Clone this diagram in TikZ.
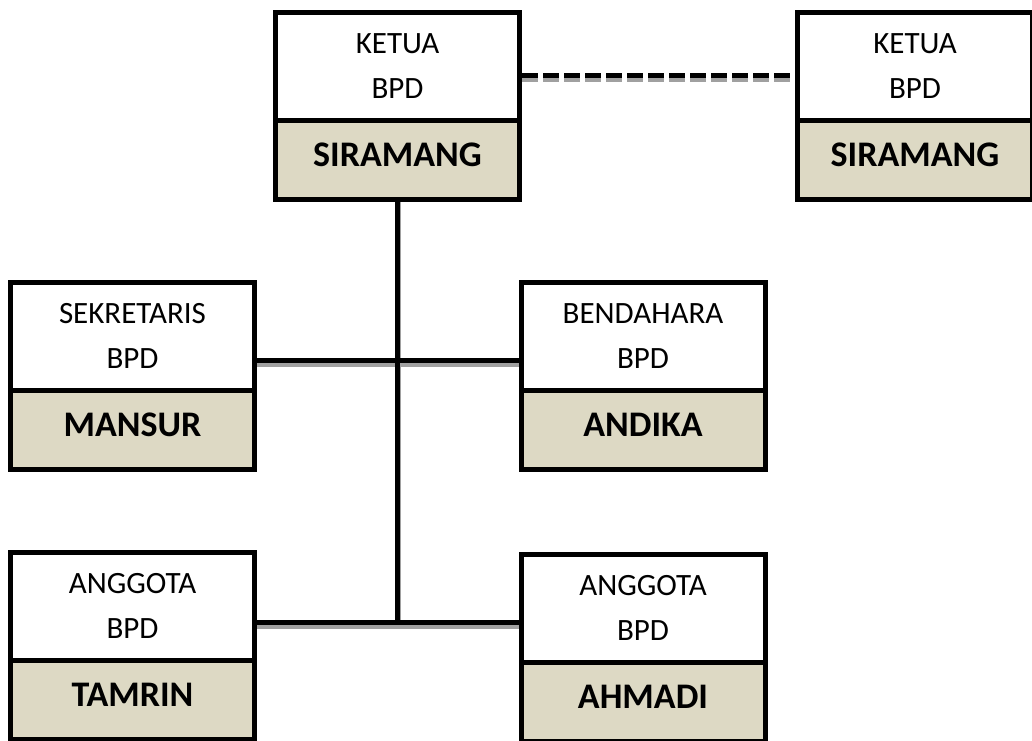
\documentclass[tikz,border=0pt]{standalone}
\usepackage{fontspec}
\setmainfont{Carlito}
\usetikzlibrary{calc}
\pgfdeclarelayer{background}
\pgfsetlayers{background,main}
\definecolor{namebg}{HTML}{DDD9C4}
\definecolor{shadowgray}{HTML}{A0A0A0}
\tikzset{
  role/.style={draw, line width=5pt, fill=white, minimum width=244pt, minimum height=108pt, inner sep=0pt},
  who/.style={draw, line width=5pt, fill=namebg, minimum width=244pt, minimum height=79pt, inner sep=0pt},
  rtxt/.style={anchor=base, font=\fontsize{31}{31}\selectfont, inner sep=0pt},
  ntxt/.style={anchor=base, font=\bfseries\fontsize{36}{36}\selectfont, inner sep=0pt},
  link/.style={line width=5pt, draw=black},
  shade/.style={line width=5pt, draw=shadowgray},
  dashlink/.style={dash pattern=on 16pt off 5pt},
}
\begin{document}
\begin{tikzpicture}[x=1pt, y=-1pt]
\useasboundingbox (0,0) rectangle (1032,740);
\clip (0,0) rectangle (1032,740);

% boxes
\node[role] (A) at (397.5,66.5) {};
\node[who]  (An) at (397.5,160) {};
\node[role, minimum width=235pt] (B) at (915,66.5) {};
\node[who,  minimum width=235pt] (Bn) at (915,160) {};
\node[role] (C) at (132.5,336.5) {};
\node[who]  (Cn) at (132.5,430) {};
\node[role] (D) at (643,336.5) {};
\node[who]  (Dn) at (643,430) {};
\node[role] (E) at (132.5,606.5) {};
\node[who]  (En) at (132.5,700) {};
\node[role] (F) at (643,608.5) {};
\node[who]  (Fn) at (643,702) {};

% texts
\node[rtxt] (A1) at ([yshift=-43pt]A.north) {KETUA};
\node[rtxt] (A2) at ([yshift=-88pt]A.north) {BPD};
\node[ntxt] (A3) at ([yshift=-48pt]An.north) {SIRAMANG};
\node[rtxt] (B1) at ([yshift=-43pt]B.north) {KETUA};
\node[rtxt] (B2) at ([yshift=-88pt]B.north) {BPD};
\node[ntxt] (B3) at ([yshift=-48pt]Bn.north) {SIRAMANG};
\node[rtxt] (C1) at ([yshift=-43pt]C.north) {SEKRETARIS};
\node[rtxt] (C2) at ([yshift=-88pt]C.north) {BPD};
\node[ntxt] (C3) at ([yshift=-48pt]Cn.north) {MANSUR};
\node[rtxt] (D1) at ([yshift=-43pt]D.north) {BENDAHARA};
\node[rtxt] (D2) at ([yshift=-88pt]D.north) {BPD};
\node[ntxt] (D3) at ([yshift=-48pt]Dn.north) {ANDIKA};
\node[rtxt] (E1) at ([yshift=-43pt]E.north) {ANGGOTA};
\node[rtxt] (E2) at ([yshift=-88pt]E.north) {BPD};
\node[ntxt] (E3) at ([yshift=-48pt]En.north) {TAMRIN};
\node[rtxt] (F1) at ([yshift=-43pt]F.north) {ANGGOTA};
\node[rtxt] (F2) at ([yshift=-88pt]F.north) {BPD};
\node[ntxt] (F3) at ([yshift=-48pt]Fn.north) {AHMADI};

% junctions
\coordinate (top) at (A.east |- 0,75.5);
\coordinate (mid) at (An.south |- 0,360.5);
\coordinate (low) at (An.south |- 0,622.5);

\begin{pgfonlayer}{background}
  % shadows
  \draw[shade, dashlink] ($(A.east |- top)+(0,3.5)$) -- ($(B.west |- top)+(0,3.5)$);
  \draw[shade] ($(An.south)+(1,0)$) -- ($(low)+(1,3.5)$);
  \draw[shade] ($(C.east |- mid)+(0,3.5)$) -- ($(D.west |- mid)+(0,3.5)$);
  \draw[shade] ($(E.east |- low)+(0,3.5)$) -- ($(F.west |- low)+(0,3.5)$);
  % lines
  \draw[link, dashlink] (A.east |- top) -- (B.west |- top);
  \draw[link] (An.south) -- (low);
  \draw[link] (C.east |- mid) -- (D.west |- mid);
  \draw[link] (E.east |- low) -- (F.west |- low);
\end{pgfonlayer}
\end{tikzpicture}
\end{document}
